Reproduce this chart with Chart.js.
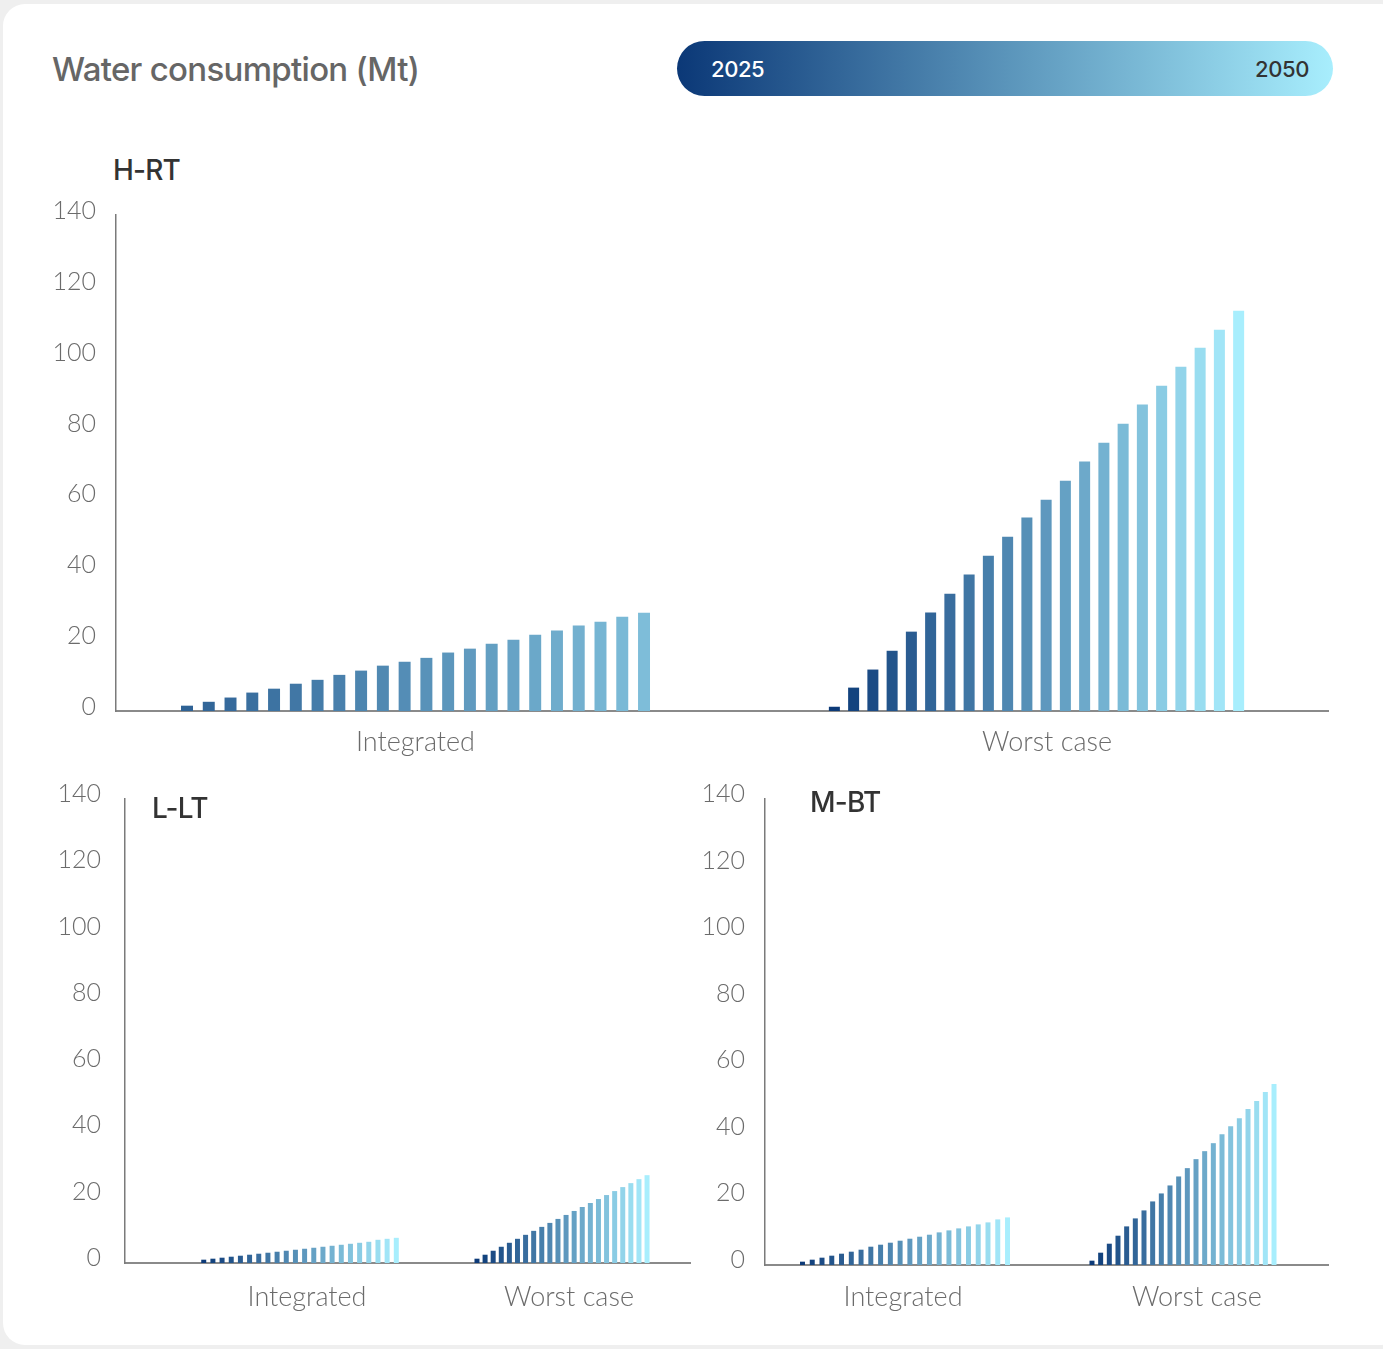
<!DOCTYPE html>
<html>
<head>
<meta charset="utf-8">
<script src="https://cdn.jsdelivr.net/npm/chart.js@4.4.1/dist/chart.umd.min.js"></script>
<style>
  html, body { margin: 0; padding: 0; width: 1383px; height: 1349px; overflow: hidden; background: #efefef; }
  .card { position: absolute; left: 3px; top: 4px; width: 1400px; height: 1341px; background: #fff; border-radius: 22px; }
  .title { position: absolute; left: 52px; top: 53px; font: 500 33px/1 Inter, sans-serif; color: #666; letter-spacing: -0.7px; white-space: nowrap; }
  .pill { position: absolute; left: 677px; top: 41px; width: 656px; height: 55px; border-radius: 28px;
          background: linear-gradient(90deg, #0b3877 0%, #5a94ba 50%, #a8eefd 100%); }
  .pill span { position: absolute; top: 17px; font: 500 22px/1 Inter, sans-serif; letter-spacing: -0.4px; }
  .panel-title { position: absolute; font: 500 28px/1 Inter, sans-serif; color: #333; letter-spacing: -0.8px; z-index: 2; }
  .chart-box { position: absolute; }
  canvas { display: block; }
</style>
</head>
<body>
<div class="card"></div>
<div class="title">Water consumption (Mt)</div>
<div class="pill">
  <span style="left:34px;color:#fff;">2025</span>
  <span style="right:24px;color:#333;">2050</span>
</div>

<div class="chart-box" style="left:0;top:190px;"><canvas id="hrt" width="1383" height="600"></canvas></div>
<div class="chart-box" style="left:0;top:770px;"><canvas id="llt" width="700" height="560"></canvas></div>
<div class="chart-box" style="left:690px;top:770px;"><canvas id="mbt" width="693" height="560"></canvas></div>

<div class="panel-title" style="left:113px;top:156px;">H-RT</div>
<div class="panel-title" style="left:152px;top:794px;">L-LT</div>
<div class="panel-title" style="left:810px;top:788px;">M-BT</div>

<script>
// Scenario groups on the x axis and the value ticks on the y axis
const groups = ['Integrated', 'Worst case'];
const yTicks = [0, 20, 40, 60, 80, 100, 120, 140];

// Yearly water consumption (Mt), one value per bar, 2025 → 2050 colour ramp
const hrtIntegrated = [1.5, 2.6, 3.8, 5.2, 6.3, 7.7, 8.8, 10.2, 11.4, 12.8, 13.9, 15.0, 16.5, 17.6, 19.0, 20.1, 21.5, 22.7, 24.1, 25.2, 26.6, 27.7];
const hrtWorst      = [1.2, 6.6, 11.7, 17.0, 22.4, 27.8, 33.1, 38.5, 43.8, 49.2, 54.6, 59.6, 65.0, 70.4, 75.7, 81.1, 86.5, 91.8, 97.2, 102.5, 107.6, 113.0];

const lltIntegrated = [1.0, 1.3, 1.6, 1.9, 2.2, 2.5, 2.8, 3.1, 3.4, 3.7, 4.0, 4.3, 4.6, 4.9, 5.2, 5.5, 5.8, 6.1, 6.4, 7.0, 7.3, 7.6];
const lltWorst      = [1.3, 2.5, 3.7, 4.9, 6.1, 7.3, 8.5, 9.7, 10.9, 12.1, 13.3, 14.5, 15.7, 16.9, 18.1, 19.3, 20.5, 21.7, 22.9, 24.1, 25.3, 26.5];

const mbtIntegrated = [1.0, 1.6, 2.2, 2.8, 3.4, 4.0, 4.6, 5.5, 6.1, 6.7, 7.3, 7.9, 8.5, 9.1, 9.8, 10.4, 11.0, 11.6, 12.2, 12.8, 13.7, 14.3];
const mbtWorst      = [1.3, 3.7, 6.4, 8.8, 11.6, 14.0, 16.4, 19.1, 21.5, 23.9, 26.6, 29.1, 31.8, 34.2, 36.6, 39.3, 41.7, 44.1, 46.9, 49.3, 52.0, 54.4];

// Colour ramp from deep navy to light cyan
const DARK = [12, 58, 120], LIGHT = [168, 238, 253];
function shade(t) {
  const c = DARK.map((d, k) => Math.round(d + (LIGHT[k] - d) * t));
  return `rgb(${c[0]},${c[1]},${c[2]})`;
}
function ramp(n, t0, t1) {
  const out = [];
  for (let i = 0; i < n; i++) out.push(shade(t0 + (t1 - t0) * i / (n - 1)));
  return out;
}

const tickFont = { family: 'Lato, sans-serif', size: 25, weight: 300 };
const labelFont = { family: 'Lato, sans-serif', size: 27, weight: 300 };

function drawPanel(id, integrated, worst, o) {
  const n = integrated.length;
  const colInt = ramp(n, o.intRange[0], o.intRange[1]);
  const colWorst = ramp(n, 0, 1);
  // null at the other group's slot so skipNull keeps each group's bars packed on its own
  const intSets = integrated.map((v, i) => ({
    label: groups[0] + ' ' + (i + 1),
    data: [{ x: 0, y: v }, { x: 1, y: null }],
    backgroundColor: colInt[i],
    borderWidth: 0,
    skipNull: true,
    categoryPercentage: o.int[0],
    barPercentage: o.int[1]
  }));
  const worstSets = worst.map((v, i) => ({
    label: groups[1] + ' ' + (i + 1),
    data: [{ x: 0, y: null }, { x: 1, y: v }],
    backgroundColor: colWorst[i],
    borderWidth: 0,
    skipNull: true,
    categoryPercentage: o.worst[0],
    barPercentage: o.worst[1]
  }));
  new Chart(document.getElementById(id), {
    type: 'bar',
    data: { datasets: intSets.concat(worstSets) },
    options: {
      responsive: false,
      animation: false,
      events: [],
      layout: { padding: { top: o.padTop, left: 0, right: o.padRight, bottom: 0 } },
      plugins: { legend: { display: false }, tooltip: { enabled: false }, title: { display: false } },
      scales: {
        x: {
          type: 'linear',
          offset: false,
          bounds: 'data',
          min: o.xMin, max: o.xMax,
          grid: { display: false, drawTicks: false, offset: false },
          border: { display: true, color: '#8a8a8a', width: 2 },
          // group name ticks, set slightly apart from the bar groups
          afterBuildTicks: s => { s.ticks = o.labelAt.map(v => ({ value: v })); },
          afterFit: s => { s.height = o.xHeight; s.paddingLeft = 0; s.paddingRight = 0; },
          ticks: {
            autoSkip: false, maxRotation: 0, padding: o.xPad, labelOffset: o.xLabelOffset,
            color: '#6b6b6b', font: labelFont,
            callback: (v, i) => groups[i]
          }
        },
        y: {
          min: 0, max: 140,
          grid: { display: false, drawTicks: false },
          border: { display: true, color: '#7a7a7a', width: 1.5 },
          afterBuildTicks: s => { s.ticks = yTicks.map(v => ({ value: v })); },
          afterFit: s => { s.width = o.yWidth; s.paddingTop = 0; s.paddingBottom = 0; },
          ticks: { padding: o.yPad, labelOffset: o.yLabelOffset, color: '#6b6b6b', font: tickFont }
        }
      }
    }
  });
}

drawPanel('hrt', hrtIntegrated, hrtWorst, {
  intRange: [0.22, 0.73], int: [0.771, 0.55], worst: [0.682, 0.572],
  padTop: 25, padRight: 55, xMin: -0.4823, xMax: 1.4694, labelAt: [0, 1.017],
  xHeight: 79, xPad: 15, xLabelOffset: 0, yWidth: 116, yPad: 20, yLabelOffset: -4
});
drawPanel('llt', lltIntegrated, lltWorst, {
  intRange: [0, 1], int: [0.770, 0.545], worst: [0.680, 0.617],
  padTop: 29, padRight: 10, xMin: -0.668, xMax: 1.4885, labelAt: [0, 1],
  xHeight: 67, xPad: 18, xLabelOffset: 7, yWidth: 125, yPad: 24, yLabelOffset: -5
});
drawPanel('mbt', mbtIntegrated, mbtWorst, {
  intRange: [0, 1], int: [0.7727, 0.51], worst: [0.686, 0.577],
  padTop: 29, padRight: 55, xMin: -0.5036, xMax: 1.5216, labelAt: [-0.007, 1.05],
  xHeight: 65, xPad: 16, xLabelOffset: 0, yWidth: 75, yPad: 20, yLabelOffset: -5
});
</script>
</body>
</html>
